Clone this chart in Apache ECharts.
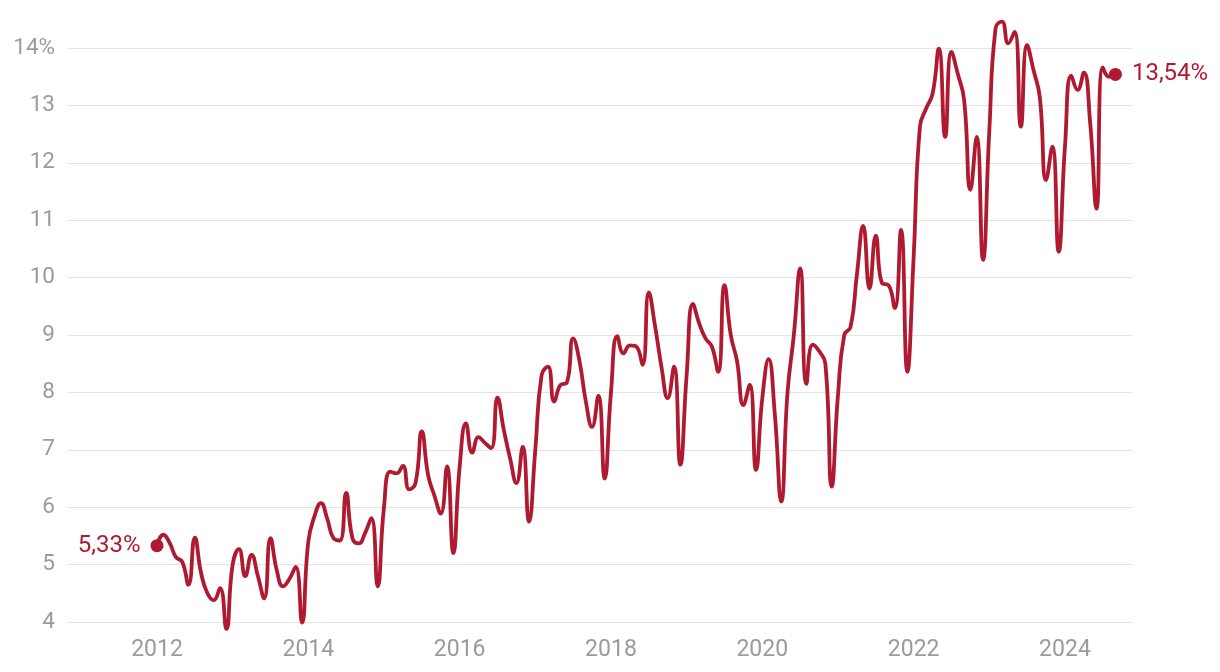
<!DOCTYPE html>
<html><head><meta charset="utf-8">
<script src="https://cdn.jsdelivr.net/npm/echarts@6/dist/echarts.min.js"></script>
<style>html,body{margin:0;padding:0;background:#fff}#c{width:1220px;height:672px}</style>
</head><body><div id="c"></div>
<script>
const startYear = 2012;
const r2012 = [5.33, 5.52, 5.38, 5.13, 5.05, 4.65, 5.47, 4.85, 4.50, 4.38, 4.59, 3.88];
const r2013 = [5.00, 5.27, 4.80, 5.17, 4.80, 4.41, 5.46, 4.90, 4.62, 4.75, 4.96, 3.99];
const r2014 = [5.40, 5.85, 6.07, 5.80, 5.46, 5.42, 6.25, 5.46, 5.37, 5.55, 5.81, 4.62];
const r2015 = [6.00, 6.62, 6.59, 6.72, 6.31, 6.42, 7.32, 6.56, 6.20, 5.89, 6.71, 5.20];
const r2016 = [6.70, 7.46, 6.95, 7.22, 7.12, 7.03, 7.91, 7.35, 6.85, 6.42, 7.05, 5.75];
const r2017 = [7.00, 8.30, 8.45, 7.84, 8.13, 8.17, 8.94, 8.55, 7.85, 7.40, 7.94, 6.50];
const r2018 = [8.00, 8.98, 8.68, 8.82, 8.80, 8.48, 9.74, 9.15, 8.45, 7.90, 8.45, 6.74];
const r2019 = [8.30, 9.54, 9.20, 8.94, 8.80, 8.36, 9.87, 9.00, 8.54, 7.78, 8.13, 6.65];
const r2020 = [7.90, 8.58, 7.60, 6.10, 8.00, 9.00, 10.16, 8.15, 8.83, 8.72, 8.50, 6.36];
const r2021 = [7.95, 9.00, 9.14, 10.05, 10.90, 9.81, 10.73, 9.90, 9.87, 9.47, 10.83, 8.36];
const r2022 = [10.35, 12.63, 12.95, 13.20, 13.99, 12.45, 13.93, 13.55, 13.10, 11.53, 12.45, 10.31];
const r2023 = [12.55, 14.35, 14.46, 14.08, 14.28, 12.63, 14.05, 13.62, 13.15, 11.70, 12.28, 10.45];
const r2024 = [12.28, 13.52, 13.27, 13.57, 12.69, 11.20, 13.66, 13.50, 13.54];

const yTicks = [4, 5, 6, 7, 8, 9, 10, 11, 12, 13, 14];
const xTicks = [2012, 2014, 2016, 2018, 2020, 2022, 2024];

const rates = [].concat(r2012, r2013, r2014, r2015, r2016, r2017, r2018, r2019, r2020, r2021, r2022, r2023, r2024);
const points = rates.map((v, i) => [startYear + i / 12, v]);
const first = points[0], last = points[points.length - 1];
const fmt = v => v.toFixed(2).replace('.', ',') + '%';
const RED = '#b01a30', GRAY = '#9b9b9b';

const chart = echarts.init(document.getElementById('c'), null, {renderer: 'canvas'});
chart.setOption({
  animation: false,
  grid: {left: 68, right: 88, top: 13.56, bottom: 32.78, containLabel: false},
  xAxis: {
    type: 'value', min: 2010.824, max: 2024.886,
    axisLine: {show: false},
    axisTick: {show: false, customValues: xTicks},
    splitLine: {show: false},
    axisLabel: {customValues: xTicks, color: GRAY, fontSize: 23, fontFamily: 'Roboto', margin: 0, formatter: v => String(v)}
  },
  yAxis: {
    type: 'value', min: 3.7, max: 14.6,
    axisLine: {show: false},
    axisTick: {show: false, customValues: yTicks},
    splitLine: {show: true, lineStyle: {color: '#e3e3e3', width: 1}},
    axisLabel: {customValues: yTicks, color: GRAY, fontSize: 22.5, fontFamily: 'Roboto', margin: 13, formatter: v => v === 14 ? '14%' : String(v)}
  },
  series: [
    {type: 'line', data: points, smooth: 0.5, showSymbol: false, symbol: 'none', lineStyle: {color: RED, width: 3.8}, clip: false, z: 2},
    {type: 'scatter', z: 3, data: [
        {value: first, label: {position: 'left'}},
        {value: last, label: {position: 'right'}}
      ],
      symbolSize: 13, itemStyle: {color: RED, opacity: 1},
      label: {show: true, color: RED, fontSize: 24, fontFamily: 'Roboto', distance: 10, formatter: p => fmt(p.value[1])}
    }
  ]
});
</script></body></html>
